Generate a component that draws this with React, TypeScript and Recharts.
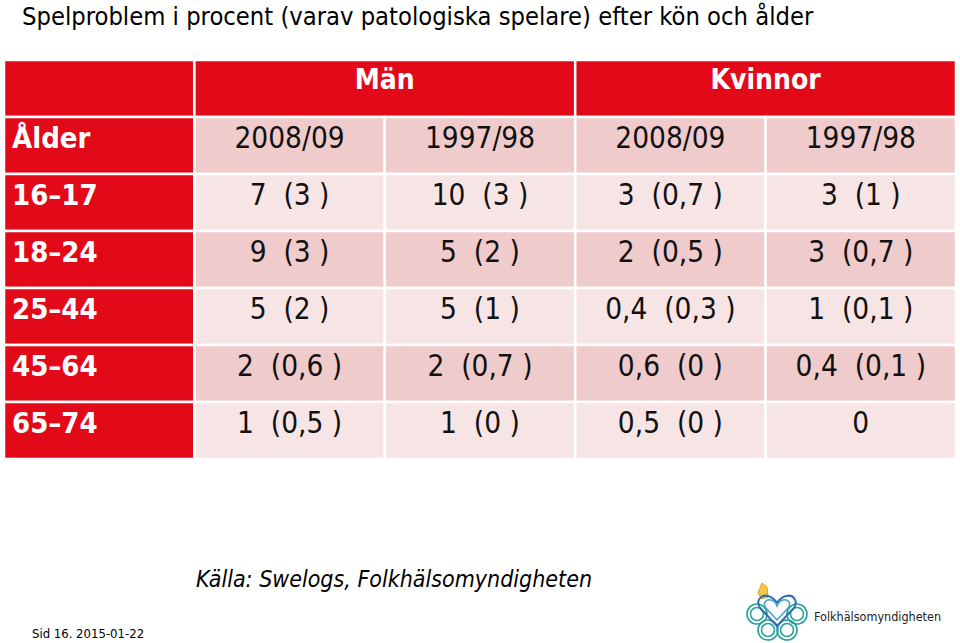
import { ScatterChart, Scatter, XAxis, YAxis, ReferenceArea } from 'recharts';

// Spelproblem i procent (varav patologiska spelare), Swelogs
const ageGroups = ['16–17', '18–24', '25–44', '45–64', '65–74'];
const sexes = ['Män', 'Kvinnor'];
const periods = ['2008/09', '1997/98'];

const men0809 = [7, 9, 5, 2, 1];
const men0809Path = [3, 3, 2, 0.6, 0.5];
const men9798 = [10, 5, 5, 2, 1];
const men9798Path = [3, 2, 1, 0.7, 0];
const women0809 = [3, 2, 0.4, 0.6, 0.5];
const women0809Path = [0.7, 0.5, 0.3, 0, 0];
const women9798 = [3, 3, 1, 0.4, 0];
const women9798Path: (number | null)[] = [1, 0.7, 0.1, 0.1, null];

const columns = [
  [men0809, men0809Path],
  [men9798, men9798Path],
  [women0809, women0809Path],
  [women9798, women9798Path],
] as const;

const RED = '#E20A18';
const PINK_DARK = '#F0CBCC';
const PINK_LIGHT = '#F7E5E6';
const FONT = '"DejaVu Sans Condensed", "DejaVu Sans", sans-serif';

const fmt = (v: number) => String(v).replace('.', ',');
const cellText = (v: number, p: number | null) =>
  p == null ? fmt(v) : `${fmt(v)}\u00a0\u00a0(${fmt(p)}\u00a0)`;

// background cells, in table units (col, row)
type Area = { x1: number; x2: number; y1: number; y2: number; fill: string };
const areas: Area[] = [];
areas.push({ x1: 0, x2: 1, y1: 0, y2: 1, fill: RED });
sexes.forEach((_, i) => areas.push({ x1: 1 + i * 2, x2: 3 + i * 2, y1: 0, y2: 1, fill: RED }));
for (let r = 1; r <= ageGroups.length + 1; r++) {
  areas.push({ x1: 0, x2: 1, y1: r, y2: r + 1, fill: RED });
  for (let c = 1; c <= 4; c++) {
    areas.push({ x1: c, x2: c + 1, y1: r, y2: r + 1, fill: r % 2 === 1 ? PINK_DARK : PINK_LIGHT });
  }
}

const groupLabels = sexes.map((s, i) => ({ x: 2 + i * 2, y: 0.5, label: s }));
const rowLabels = ['Ålder', ...ageGroups].map((s, i) => ({ x: 0, y: 1.5 + i, label: s }));
const periodLabels = [0, 1, 2, 3].map((c) => ({ x: c + 1.5, y: 1.5, label: periods[c % 2] }));
const valueLabels = columns.flatMap(([tot, path], c) =>
  ageGroups.map((_, r) => ({ x: c + 1.5, y: r + 2.5, label: cellText(tot[r], path[r]) })),
);

const CenterText = (props: any) => (
  <text x={props.cx} y={props.cy + 2} textAnchor="middle" fontFamily={FONT} fontSize={29.5} fill="#111">
    {props.payload.label}
  </text>
);
const GroupText = (props: any) => (
  <text x={props.cx} y={props.cy} textAnchor="middle" fontFamily={FONT} fontSize={28} fontWeight="bold" fill="#fff">
    {props.payload.label}
  </text>
);
const RowText = (props: any) => (
  <text x={props.cx + 8} y={props.cy + 2} textAnchor="start" fontFamily={FONT} fontSize={29} fontWeight="bold" fill="#fff">
    {props.payload.label}
  </text>
);

function Logo() {
  return (
    <g>
      <path d="M762 583 L767 587 L768 597 L762 599 L758 593 Z" fill="#F2C94C" stroke="#E0A800" strokeWidth={1} />
      {[
        [757, 614],
        [797, 614],
        [768, 630],
        [787, 630],
      ].map(([x, y], i) => (
        <g key={i} fill="none" stroke="#2AA198" strokeWidth={1.6}>
          <circle cx={x} cy={y} r={10} />
          <circle cx={x} cy={y} r={6.5} />
        </g>
      ))}
      <path
        d="M777 626 L761 609 C755 602 760 594 768 596 C772 597 775 600 777 603 C779 600 782 597 786 596 C794 594 799 602 793 609 Z"
        fill="none"
        stroke="#2F6DB5"
        strokeWidth={2}
      />
      <path
        d="M777 620 L766 608 C762 603 766 599 771 600 C774 601 776 603 777 606 C778 603 780 601 783 600 C788 599 792 603 788 608 Z"
        fill="none"
        stroke="#3FA7C9"
        strokeWidth={1.5}
      />
      <text x={814} y={621} fontFamily={FONT} fontSize={12.5} fill="#222">
        Folkhälsomyndigheten
      </text>
    </g>
  );
}

export default function App() {
  return (
    <div style={{ position: 'absolute', left: 0, top: 0, width: 960, height: 643, background: '#fff' }}>
      <ScatterChart width={960} height={643} margin={{ top: 60, right: 4, bottom: 184, left: 4 }}>
        <XAxis type="number" dataKey="x" domain={[0, 5]} hide />
        <YAxis type="number" dataKey="y" domain={[0, 7]} reversed hide />
        {areas.map((a, i) => (
          <ReferenceArea
            key={i}
            x1={a.x1}
            x2={a.x2}
            y1={a.y1}
            y2={a.y2}
            fill={a.fill}
            fillOpacity={1}
            stroke="#fff"
            strokeWidth={2.5}
          />
        ))}
        <Scatter data={groupLabels} shape={GroupText} isAnimationActive={false} />
        <Scatter data={rowLabels} shape={RowText} isAnimationActive={false} />
        <Scatter data={periodLabels} shape={CenterText} isAnimationActive={false} />
        <Scatter data={valueLabels} shape={CenterText} isAnimationActive={false} />
      </ScatterChart>
      <svg width={960} height={643} style={{ position: 'absolute', left: 0, top: 0, pointerEvents: 'none' }}>
        <text x={22} y={25} fontFamily={FONT} fontSize={25.3} fill="#000">
          Spelproblem i procent (varav patologiska spelare) efter kön och ålder
        </text>
        <text x={196} y={587} fontFamily={FONT} fontSize={23} fontStyle="italic" fill="#000">
          Källa: Swelogs, Folkhälsomyndigheten
        </text>
        <text x={32} y={638} fontFamily={FONT} fontSize={13} fill="#000">
          Sid 16. 2015-01-22
        </text>
        <Logo />
      </svg>
    </div>
  );
}
